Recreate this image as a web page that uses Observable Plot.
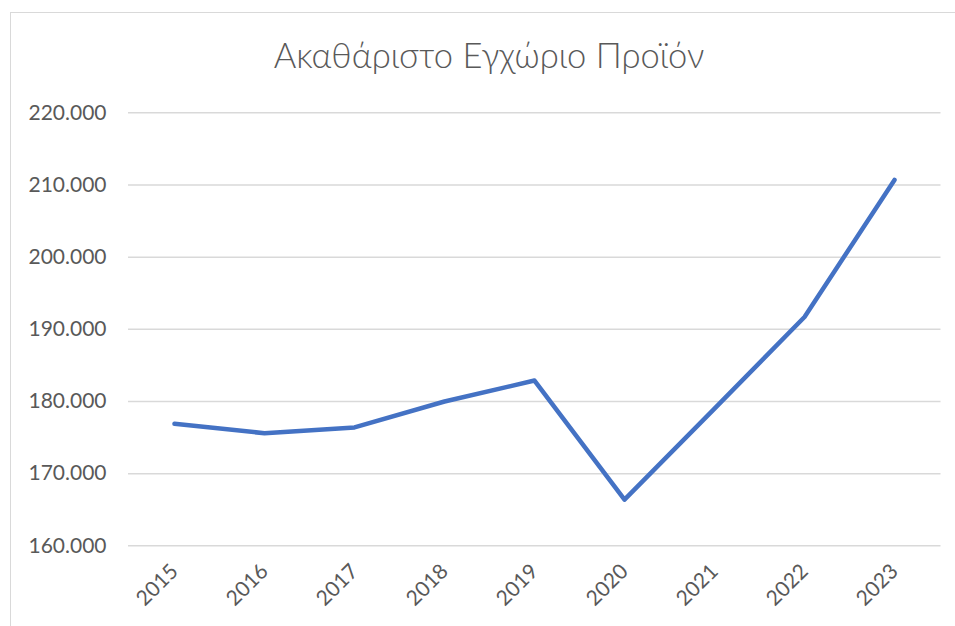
<!DOCTYPE html>
<html>
<head>
<meta charset="utf-8">
<script src="https://cdn.jsdelivr.net/npm/d3@7"></script>
<script src="https://cdn.jsdelivr.net/npm/@observablehq/plot@0.6"></script>
<style>
  html, body { margin: 0; padding: 0; background: #fff; }
  body { width: 955px; height: 626px; overflow: hidden; position: relative; font-family: Lato, "Open Sans", sans-serif; }
  #frame { position: absolute; left: 10px; top: 12px; width: 960px; height: 640px; border-top: 1.5px solid #d9d9d9; border-left: 1.5px solid #d9d9d9; box-sizing: border-box; }
  #title { position: absolute; left: 0; top: 0; width: 978px; height: 90px; text-align: center; font-size: 34.5px; font-weight: 300; color: #595959; line-height: 110px; white-space: nowrap; }
  #chart { position: absolute; left: 0; top: 90px; }
</style>
</head>
<body>
<div id="frame"></div>
<div id="title">Ακαθάριστο Εγχώριο Προϊόν</div>
<div id="chart"></div>
<script>
const years = ["2015", "2016", "2017", "2018", "2019", "2020", "2021", "2022", "2023"];
const gdp = [176900, 175600, 176400, 180000, 182900, 166400, 179000, 191700, 210700];
const yTicks = [160000, 170000, 180000, 190000, 200000, 210000, 220000];

const data = years.map((y, i) => ({year: y, value: gdp[i]}));
const fmt = d3.formatLocale({decimal: ",", thousands: ".", grouping: [3], currency: ["", "€"]}).format(",d");

const chart = Plot.plot({
  width: 955,
  height: 536,
  marginTop: 22.3,
  marginBottom: 80.7,
  marginLeft: 128,
  marginRight: 14.5,
  style: {color: "#595959", fontFamily: "Lato, 'Open Sans', sans-serif", fontSize: "21px", background: "transparent"},
  x: {type: "point", domain: years, padding: 0.5, label: null},
  y: {domain: [160000, 220000], label: null},
  marks: [
    Plot.ruleY(yTicks, {stroke: "#d9d9d9", strokeWidth: 1.5}),
    Plot.axisY(yTicks, {tickSize: 0, tickPadding: 22, tickFormat: fmt, label: null, fontSize: 21}),
    Plot.axisX(years, {tickSize: 0, tickPadding: 22, tickRotate: -45, label: null, fontSize: 21}),
    Plot.line(data, {x: "year", y: "value", stroke: "#4472C4", strokeWidth: 4.5, strokeLinecap: "round", strokeLinejoin: "round"})
  ]
});
document.getElementById("chart").appendChild(chart);
</script>
</body>
</html>
